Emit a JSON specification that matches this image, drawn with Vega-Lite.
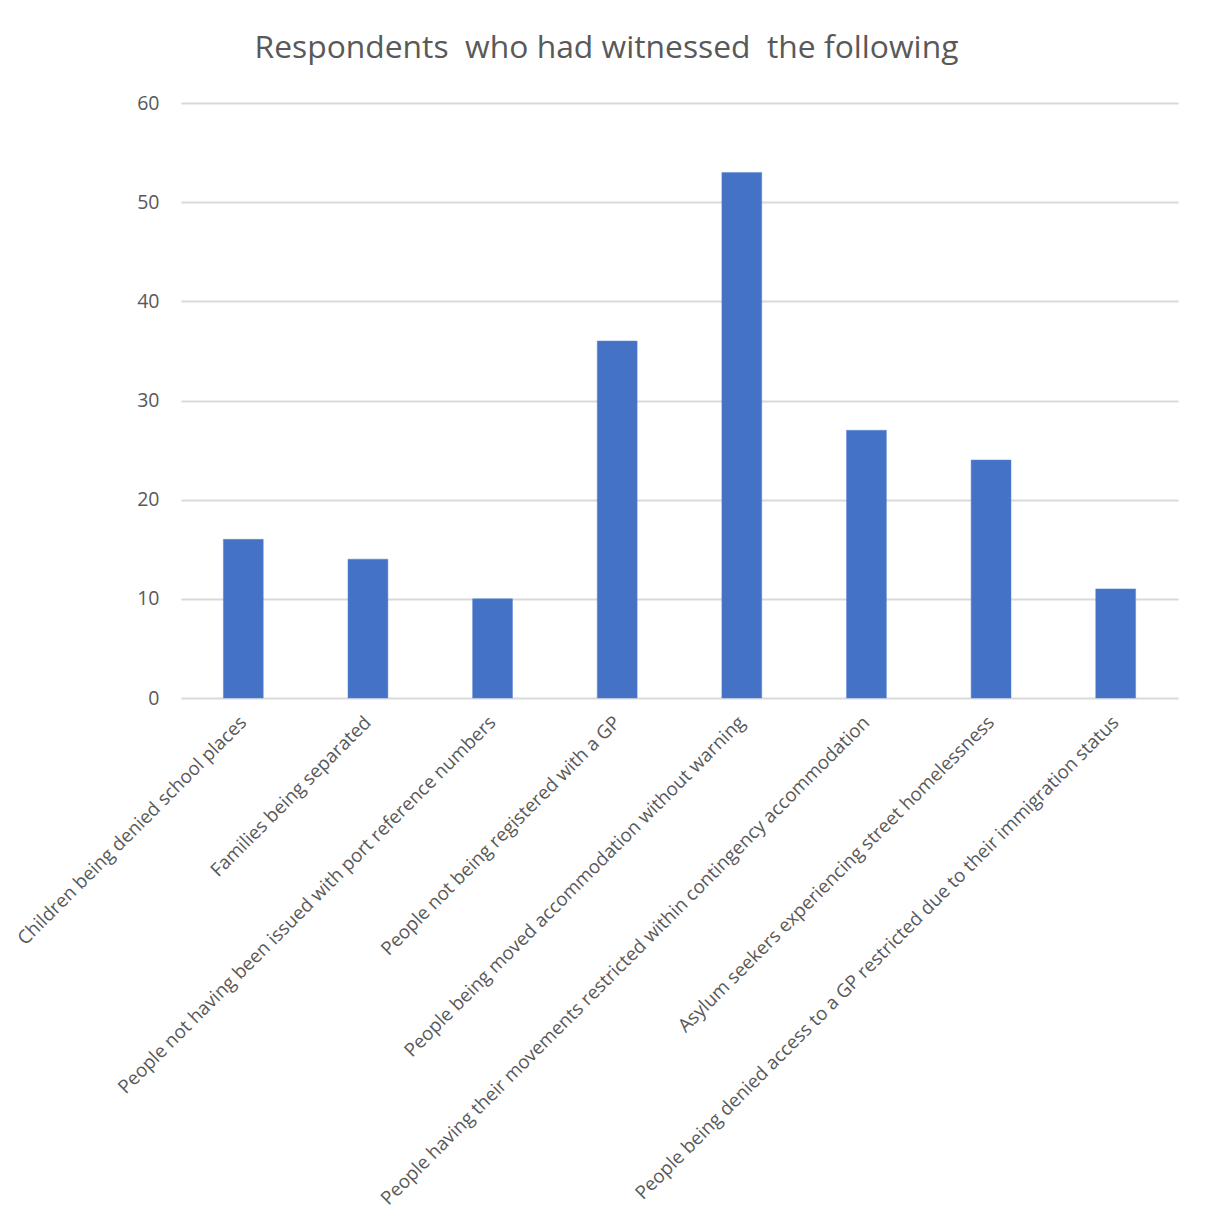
{
  "$schema": "https://vega.github.io/schema/vega-lite/v6.json",
  "width": 997,
  "height": 595,
  "autosize": "none",
  "padding": {"left": 181, "top": 103, "right": 27, "bottom": 525},
  "background": "white",
  "title": {
    "text": "Respondents\u00a0\u00a0who had witnessed\u00a0\u00a0the following",
    "font": "Open Sans",
    "fontSize": 31.8,
    "fontWeight": "normal",
    "color": "#595959",
    "anchor": "middle",
    "dx": -73,
    "offset": 28
  },
  "data": {
    "values": [
      {"category": "Children being denied school places", "value": 16},
      {"category": "Families being separated", "value": 14},
      {"category": "People not having been issued with port reference numbers", "value": 10},
      {"category": "People not being registered with a GP", "value": 36},
      {"category": "People being moved accommodation without warning", "value": 53},
      {"category": "People having their movements restricted within contingency accommodation", "value": 27},
      {"category": "Asylum seekers experiencing street homelessness", "value": 24},
      {"category": "People being denied access to a GP restricted due to their immigration status", "value": 11}
    ]
  },
  "mark": {"type": "bar", "color": "#4472C4", "stroke": "#5B87D6", "strokeWidth": 0.5},
  "encoding": {
    "x": {
      "field": "category",
      "type": "nominal",
      "sort": null,
      "scale": {"paddingInner": 0.68, "paddingOuter": 0.34},
      "axis": {
        "title": null,
        "labelAngle": -45,
        "labelAlign": "right",
        "labelBaseline": "middle",
        "labelFont": "Open Sans",
        "labelFontSize": 18.8,
        "labelColor": "#595959",
        "labelPadding": 21,
        "labelLimit": 1000,
        "ticks": false,
        "domain": false,
        "grid": false
      }
    },
    "y": {
      "field": "value",
      "type": "quantitative",
      "scale": {"domain": [0, 60]},
      "axis": {
        "title": null,
        "values": [0, 10, 20, 30, 40, 50, 60],
        "labelFont": "Open Sans",
        "labelFontSize": 19.5,
        "labelColor": "#595959",
        "labelPadding": 22,
        "ticks": false,
        "domain": false,
        "grid": true,
        "gridColor": "#D9D9D9",
        "gridWidth": 2
      }
    }
  },
  "config": {"view": {"stroke": null}}
}
